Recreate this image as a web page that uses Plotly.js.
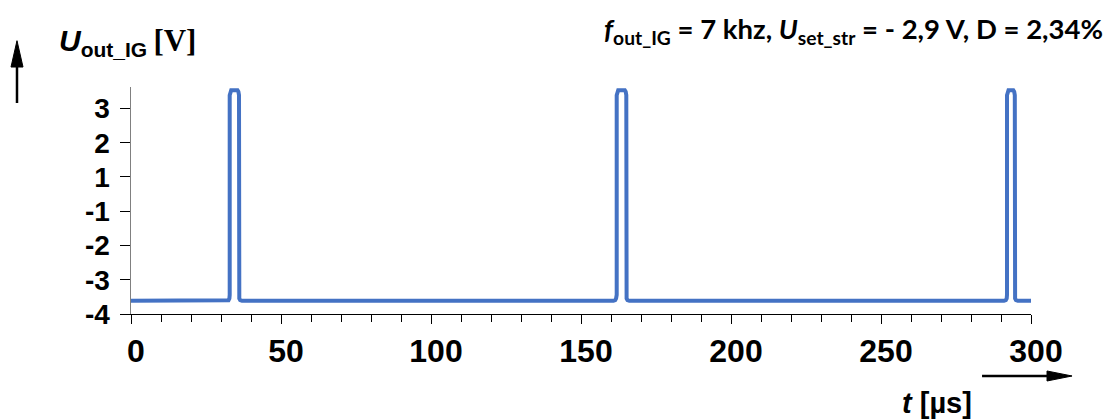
<!DOCTYPE html>
<html>
<head>
<meta charset="utf-8">
<script src="https://cdn.plot.ly/plotly-3.0.1.min.js"></script>
<style>html,body{margin:0;padding:0;background:#fff;}#chart{width:1112px;height:419px;}</style>
</head>
<body>
<div id="chart"></div>
<script>
// time in microseconds
const tValues = [0, 31.9, 32.5, 32.8, 32.9, 32.9, 33.1, 33.4, 35.5, 35.8, 36.0, 36.0, 36.1, 36.4, 37.0,
  160.8, 161.4, 161.7, 161.9, 161.9, 162.1, 162.4, 164.6, 164.9, 165.1, 165.1, 165.2, 165.5, 166.1,
  291.0, 291.6, 291.9, 292.0, 292.0, 292.2, 292.5, 294.1, 294.4, 294.6, 294.6, 294.7, 295.0, 295.6, 300.6];
// output voltage U_out_IG in volts
const uValues = [-3.55, -3.55, -3.53, -3.47, -3.35, 3.45, 3.57, 3.62, 3.62, 3.57, 3.45, -3.35, -3.47, -3.53, -3.55,
  -3.55, -3.53, -3.47, -3.35, 3.45, 3.57, 3.62, 3.62, 3.57, 3.45, -3.35, -3.47, -3.53, -3.55,
  -3.55, -3.53, -3.47, -3.35, 3.45, 3.57, 3.62, 3.62, 3.57, 3.45, -3.35, -3.47, -3.53, -3.55, -3.55];

const xTickVals = [0, 50, 100, 150, 200, 250, 300];
const xTickText = ['0', '50', '100', '150', '200', '250', '300'];
const yTickVals = [-4, -2.8333, -1.6667, -0.5, 0.6667, 1.8333, 3];
const yTickText = ['-4', '-3', '-2', '-1', '1', '2', '3'];

const trace = {
  x: tValues, y: uValues, type: 'scatter', mode: 'lines',
  line: {color: '#4472C4', width: 4, shape: 'linear'},
  hoverinfo: 'skip'
};

const layout = {
  width: 1112, height: 419,
  margin: {l: 131, r: 81, t: 87, b: 105},
  paper_bgcolor: '#ffffff', plot_bgcolor: '#ffffff',
  showlegend: false,
  font: {family: 'Liberation Sans, Arial, sans-serif', color: '#000'},
  xaxis: {
    range: [0, 300], showgrid: false, zeroline: false,
    showline: true, linecolor: '#000', linewidth: 1,
    tickmode: 'array', tickvals: xTickVals, ticktext: xTickText,
    ticks: 'outside', ticklen: 9, tickwidth: 1, tickcolor: '#000',
    minor: {dtick: 10, ticks: 'outside', ticklen: 7, tickwidth: 1, tickcolor: '#000', showgrid: false},
    tickfont: {size: 32, weight: 'bold', family: 'Liberation Sans, Arial, sans-serif'},
    ticklabelshift: 5
  },
  yaxis: {
    range: [-4, 3.73], showgrid: false, zeroline: false,
    showline: true, linecolor: '#808080', linewidth: 1.5,
    tickmode: 'array', tickvals: yTickVals, ticktext: yTickText,
    ticks: 'outside', ticklen: 10, tickwidth: 1, tickcolor: '#000',
    tickfont: {size: 28, weight: 'bold', family: 'Liberation Sans, Arial, sans-serif'},
    ticklabelstandoff: 4
  },
  annotations: [
    {
      xref: 'paper', yref: 'paper', x: 1.0822, y: 1.247, xanchor: 'right', yanchor: 'middle',
      showarrow: false,
      text: '<b><i>f</i><sub>out_IG</sub> = 7 khz, <i>U</i><sub>set_str</sub> = - 2,9 V, D = 2,34%</b>',
      font: {family: 'Lato, Open Sans, sans-serif', size: 27.5, color: '#000'}
    },
    {
      xref: 'paper', yref: 'paper', x: -0.0822, y: 1.2, xanchor: 'left', yanchor: 'middle',
      showarrow: false,
      text: '<b><i>U</i><sub>out_IG</sub></b><span style="font-family:\'Liberation Serif\',serif;font-weight:bold;font-size:31px">&#8201;[V]</span>',
      font: {family: 'Liberation Sans, Arial, sans-serif', size: 30, color: '#000'}
    },
    {
      xref: 'paper', yref: 'paper', x: 0.8956, y: -0.39, xanchor: 'center', yanchor: 'middle',
      showarrow: false,
      text: '<b><i>t</i> [µs]</b>',
      font: {family: 'Liberation Sans, Arial, sans-serif', size: 29, color: '#000'}
    }
  ],
  shapes: [
    // horizontal arrow (t axis)
    {type: 'line', xref: 'paper', yref: 'paper', x0: 0.9456, x1: 1.02, y0: -0.2731, y1: -0.2731,
     line: {color: '#000', width: 2.5}},
    {type: 'path', xref: 'paper', yref: 'paper',
     path: 'M 1.0178 -0.2511 L 1.0456 -0.2731 L 1.0178 -0.2951 Z',
     fillcolor: '#000', line: {color: '#000', width: 1}},
    // vertical arrow (U axis)
    {type: 'line', xref: 'paper', yref: 'paper', x0: -0.12667, x1: -0.12667, y0: 0.9295, y1: 1.10,
     line: {color: '#000', width: 2.5}},
    {type: 'path', xref: 'paper', yref: 'paper',
     path: 'M -0.13333 1.088 L -0.12667 1.204 L -0.12 1.088 Z',
     fillcolor: '#000', line: {color: '#000', width: 1}}
  ]
};

Plotly.newPlot('chart', [trace], layout, {displayModeBar: false, staticPlot: true});
</script>
</body>
</html>
